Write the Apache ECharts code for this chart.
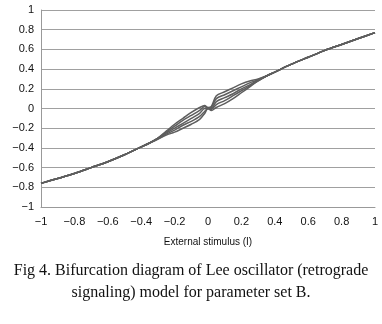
<!DOCTYPE html>
<html><head><meta charset="utf-8">
<script src="https://cdn.jsdelivr.net/npm/echarts@6/dist/echarts.min.js"></script>
<style>html,body{margin:0;padding:0;background:#fff}#c{width:382px;height:324px}</style>
</head><body><div id="c"></div>
<script>
// Outer (single-valued) part of the curve
const outerLeftI = [-1, -0.9, -0.8, -0.7, -0.6, -0.5, -0.4, -0.35];
const outerLeftN = [-0.76, -0.71, -0.66, -0.60, -0.54, -0.47, -0.39, -0.35];
const outerRightI = [0.35, 0.4, 0.5, 0.6, 0.7, 0.8, 0.9, 1];
const outerRightN = [0.33, 0.37, 0.45, 0.52, 0.59, 0.65, 0.71, 0.77];
// Inner (multi-branch) region
const innerI = [-0.3, -0.25, -0.2, -0.15, -0.1, -0.05, -0.02, 0, 0.02, 0.05, 0.1, 0.15, 0.2, 0.25, 0.3];
const branchA = [-0.30, -0.23, -0.16, -0.10, -0.04, 0.01, 0.03, 0.01, 0.02, 0.13, 0.17, 0.21, 0.25, 0.28, 0.30];
const branchB = [-0.30, -0.24, -0.18, -0.12, -0.07, -0.02, 0.02, 0.00, 0.01, 0.10, 0.14, 0.18, 0.22, 0.26, 0.29];
const branchC = [-0.30, -0.25, -0.20, -0.15, -0.10, -0.05, 0.00, 0.00, 0.00, 0.07, 0.11, 0.15, 0.20, 0.24, 0.29];
const branchD = [-0.31, -0.26, -0.22, -0.17, -0.13, -0.08, -0.03, 0.00, -0.01, 0.04, 0.08, 0.13, 0.18, 0.23, 0.28];
const branchE = [-0.31, -0.27, -0.24, -0.20, -0.16, -0.11, -0.05, 0.00, -0.02, 0.01, 0.05, 0.10, 0.16, 0.22, 0.28];
const branches = [branchA, branchB, branchC, branchD, branchE];
const caption = ['Fig 4. Bifurcation diagram of Lee oscillator (retrograde', 'signaling) model for parameter set B.'];

const fmt = v => { const s = String(Math.round(v*10)/10); return s.replace('-', '\u2212'); };
const mk = (xs, ys) => xs.map((x, i) => [x, ys[i]]);
const series = branches.map(b => ({
  type: 'line', showSymbol: false, symbol: 'none', smooth: 0.3,
  lineStyle: { color: '#5e5e5e', width: 1.5 },
  data: mk(outerLeftI, outerLeftN).concat(mk(innerI, b), mk(outerRightI, outerRightN))
}));

const chart = echarts.init(document.getElementById('c'), null, { renderer: 'canvas' });
chart.setOption({
  animation: false,
  backgroundColor: '#fff',
  graphic: caption.map((t, i) => ({
    type: 'text', left: 'center', top: 263 + i * 22,
    style: { text: t, font: '16px "Liberation Serif"', fill: '#111' }
  })),
  grid: { left: 41, right: 7, top: 10, bottom: 117, containLabel: false, outerBoundsMode: 'none' },
  xAxis: {
    type: 'value', min: -1, max: 1, interval: 0.2,
    name: 'External stimulus (I)', nameLocation: 'middle', nameGap: 30,
    nameTextStyle: { fontFamily: 'Liberation Sans', fontSize: 10, color: '#111' },
    axisLine: { show: true, onZero: false, lineStyle: { color: '#999', width: 1 } },
    axisTick: { show: false },
    splitLine: { show: false },
    axisLabel: { formatter: fmt, fontFamily: 'Liberation Sans', fontSize: 11, color: '#111', margin: 9 }
  },
  yAxis: {
    type: 'value', min: -1, max: 1, interval: 0.2,
    name: 'N', nameLocation: 'middle', nameGap: 34, nameRotate: 90,
    nameTextStyle: { fontFamily: 'Liberation Sans', fontSize: 10, color: '#111' },
    axisLine: { show: true, onZero: false, lineStyle: { color: '#999', width: 1 } },
    axisTick: { show: false },
    splitLine: { show: true, lineStyle: { color: '#a0a0a0', width: 1 } },
    axisLabel: { formatter: fmt, fontFamily: 'Liberation Sans', fontSize: 11, color: '#111', margin: 7 }
  },
  series: series
});
</script></body></html>
